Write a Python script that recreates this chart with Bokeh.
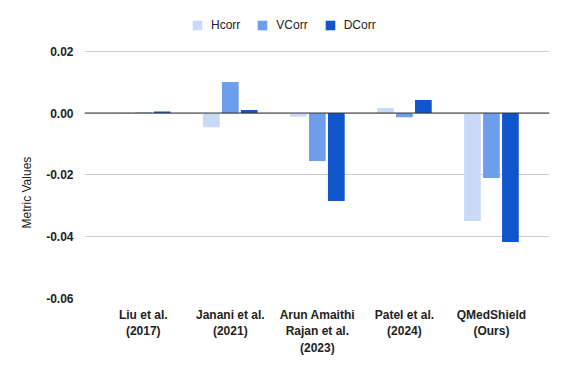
import numpy as np
from bokeh.plotting import figure
from bokeh.models import (ColumnDataSource, Range1d, FixedTicker, NumeralTickFormatter,
                          Legend, LegendItem, Span, Title)
from bokeh.transform import dodge
from bokeh.embed import file_html
from bokeh.resources import INLINE

categories = ["Liu et al.\n(2017)", "Janani et al.\n(2021)",
              "Arun Amaithi\nRajan et al.\n(2023)", "Patel et al.\n(2024)",
              "QMedShield\n(Ours)"]
hcorr = [0.0001, -0.0046, -0.0012, 0.0016, -0.0349]
vcorr = [0.0002, 0.0100, -0.0155, -0.0014, -0.0210]
dcorr = [0.0005, 0.0010, -0.0285, 0.0042, -0.0417]
series_names = ["Hcorr", "VCorr", "DCorr"]
colors = ["#c9daf8", "#6d9eeb", "#1155cc"]
y_ticks = [-0.06, -0.04, -0.02, 0.0, 0.02]

xpos = list(range(len(categories)))
src = ColumnDataSource(dict(x=xpos, h=hcorr, v=vcorr, d=dcorr))

FONT = "Liberation Sans"

# frame extends above the 0.02 gridline so that the legend can sit inside it
p = figure(width=552, height=358, output_backend="svg", toolbar_location=None,
           x_range=Range1d(-0.675, 4.667), y_range=Range1d(-0.06, 0.0364),
           min_border_left=84, min_border_right=3, min_border_top=0,
           min_border_bottom=51)
p.outline_line_color = None
p.background_fill_color = "white"
p.border_fill_color = "white"

renderers = []
for key, off, col in zip(["h", "v", "d"], [-0.218, 0.0, 0.218], colors):
    r = p.vbar(x=dodge("x", off), top=key, bottom=0, width=0.192, source=src,
               fill_color=col, line_color=None)
    renderers.append(r)

zero = Span(location=0, dimension="width", line_color="#333333", line_width=1)
p.add_layout(zero)

p.xgrid.visible = False
p.ygrid.ticker = FixedTicker(ticks=y_ticks)
p.ygrid.grid_line_color = "#cccccc"
p.ygrid.grid_line_width = 1

p.yaxis.ticker = FixedTicker(ticks=y_ticks)
p.yaxis.formatter = NumeralTickFormatter(format="0.00")
p.yaxis.axis_line_color = None
p.yaxis.major_tick_line_color = None
p.yaxis.minor_tick_line_color = None
p.yaxis.major_label_standoff = 5
p.yaxis.major_label_text_font = FONT
p.yaxis.major_label_text_font_style = "bold"
p.yaxis.major_label_text_font_size = "12px"
p.yaxis.major_label_text_color = "#222222"

p.xaxis.ticker = FixedTicker(ticks=xpos)
p.xaxis.major_label_overrides = {i: c for i, c in zip(xpos, categories)}
p.xaxis.axis_line_color = None
p.xaxis.major_tick_line_color = None
p.xaxis.minor_tick_line_color = None
p.xaxis.major_label_standoff = 3
p.xaxis.major_label_text_font = FONT
p.xaxis.major_label_text_font_style = "bold"
p.xaxis.major_label_text_font_size = "12px"
p.xaxis.major_label_text_color = "#222222"

ytitle = Title(text="Metric Values", align="left", offset=70, standoff=20,
               text_font=FONT, text_font_size="12px", text_font_style="normal",
               text_color="#222222")
p.add_layout(ytitle, "left")

legend = Legend(items=[LegendItem(label=n, renderers=[r]) for n, r in zip(series_names, renderers)],
                orientation="horizontal", location=(107, 266),
                glyph_width=12, glyph_height=12, label_height=12, label_standoff=8,
                spacing=16, padding=0, margin=0,
                label_text_font=FONT, label_text_font_size="12px",
                label_text_color="#222222",
                border_line_color=None, background_fill_alpha=0)
p.add_layout(legend)

open("out.html", "w").write(file_html(p, INLINE))
